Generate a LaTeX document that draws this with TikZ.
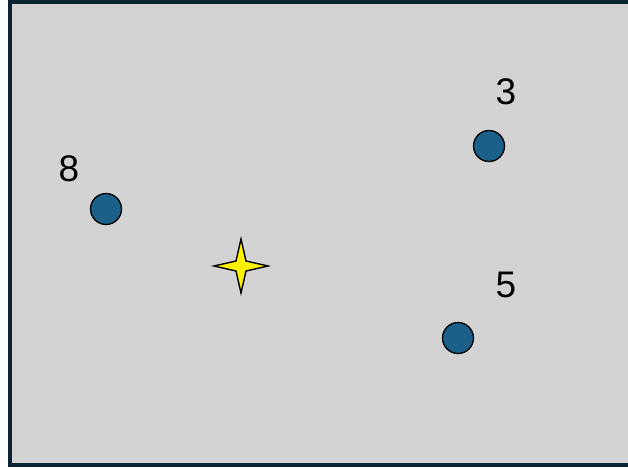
\documentclass[tikz,border=0pt]{standalone}
\usepackage{fontspec}
\setmainfont{Liberation Sans}
\usetikzlibrary{positioning}

\definecolor{framecol}{HTML}{0B2434}
\definecolor{fieldcol}{HTML}{D3D3D3}
\definecolor{dotcol}{HTML}{1A6088}

\begin{document}
\begin{tikzpicture}[
    x=1pt, y=-1pt,
    dot/.style={circle, draw=black, line width=1.3pt, fill=dotcol,
                minimum size=31pt, inner sep=0pt},
    num/.style={font=\fontsize{37}{42}\selectfont, inner sep=0pt},
  ]
  \useasboundingbox (0,0) rectangle (628,469);
  \fill[white] (0,0) rectangle (628,469);
  \filldraw[fill=fieldcol, draw=framecol, line width=4pt] (10,2) rectangle (640,465);

  \node[dot] (p3) at (489,146) {};
  \node[dot] (p8) at (106,209) {};
  \node[dot] (p5) at (458,338) {};

  \node[num] (l3) at (506,92)  {3};
  \node[num] (l8) at (69,169)  {8};
  \node[num] (l5) at (506,285) {5};

  % target marker
  \filldraw[fill=yellow, draw=black, line width=1.4pt, line join=miter]
    (241,239) -- (246,261) -- (268,266) -- (246,271) -- (241,293)
    -- (236,271) -- (214,266) -- (236,261) -- cycle;
\end{tikzpicture}
\end{document}
